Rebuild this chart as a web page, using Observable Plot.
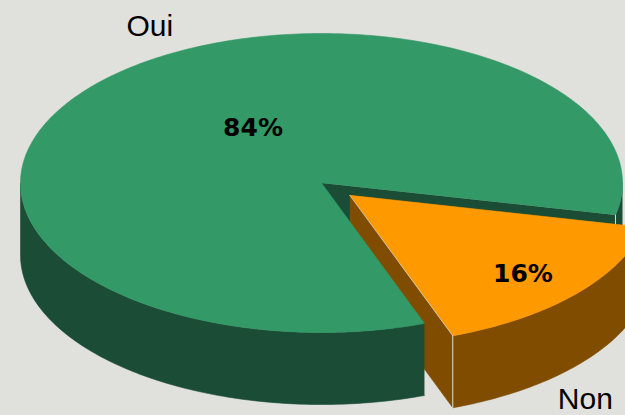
<!DOCTYPE html>
<html><head><meta charset="utf-8">
<script src="https://cdn.jsdelivr.net/npm/d3@7"></script>
<script src="https://cdn.jsdelivr.net/npm/@observablehq/plot@0.6"></script>
<style>
html,body{margin:0;padding:0;background:#e0e0dc;}
#chart{width:625px;height:415px;overflow:hidden;}
</style></head><body><div id="chart"></div>
<script>
// ---- data ----
const categories = ["Oui", "Non"];
const values = [84, 16];
const valueLabels = ["84%", "16%"];
const topColors = ["#339966", "#ff9900"];
const sideColors = ["#1b4c35", "#804d00"];
const explode = [0, 0.125];

// ---- layout ----
const W = 625, H = 415, CX = 321, CY = 182.5, RX = 301, RY = 149.5;
const DEPTH = 72 / RY;
const START = 70; // degrees, clockwise on screen
const pctPolar = {Oui: [238.3, 0.433], Non: [42.5, 0.78]};
const catPolar = {Oui: [241.5, 1.195], Non: [60.2, 1.5745]};
const edgeColor = "#dcdcd4";

const rad = d => d * Math.PI / 180;
function arcPts(a0, a1, ox, oy, dz) {
  const n = Math.max(2, Math.ceil(Math.abs(a1 - a0)));
  const pts = [];
  for (let i = 0; i <= n; i++) {
    const t = rad(a0 + (a1 - a0) * i / n);
    pts.push({x: ox + Math.cos(t), y: oy + Math.sin(t) + dz});
  }
  return pts;
}
const total = d3.sum(values);
let acc = START;
const slices = categories.map((c, i) => {
  const a0 = acc, a1 = acc + values[i] / total * 360; acc = a1;
  const mid = (a0 + a1) / 2;
  return {c, i, a0, a1, mid, ox: explode[i] * Math.cos(rad(mid)), oy: explode[i] * Math.sin(rad(mid))};
});

function poly(pts, fill) {
  return Plot.line(pts, {x: "x", y: "y", fill, stroke: fill, strokeWidth: 0.6, curve: "linear", clip: true});
}
function wallMarks(s) {
  const out = [];
  for (let k = 0; k < 3; k++) {
    const lo = Math.max(s.a0, k * 360), hi = Math.min(s.a1, k * 360 + 180);
    if (hi > lo) out.push(poly(arcPts(lo, hi, s.ox, s.oy, 0).concat(arcPts(hi, lo, s.ox, s.oy, DEPTH)), sideColors[s.i]));
  }
  return out;
}
function facePts(s, a) {
  const cx = Math.cos(rad(a)), sy = Math.sin(rad(a));
  return [{x: s.ox, y: s.oy}, {x: s.ox + cx, y: s.oy + sy}, {x: s.ox + cx, y: s.oy + sy + DEPTH}, {x: s.ox, y: s.oy + DEPTH}];
}
function faceMarks(s) {
  const out = [];
  if (Math.cos(rad(s.a0)) < 0) out.push(poly(facePts(s, s.a0), sideColors[s.i]));
  if (Math.cos(rad(s.a1)) > 0) out.push(poly(facePts(s, s.a1), sideColors[s.i]));
  return out;
}
function topMark(s) {
  return poly([{x: s.ox, y: s.oy}, ...arcPts(s.a0, s.a1, s.ox, s.oy, 0)], topColors[s.i]);
}
function edgeMarks(s, withTop) {
  const out = [];
  if (Math.cos(rad(s.a1)) > 0) {
    const p = facePts(s, s.a1);
    out.push(Plot.line([p[1], p[2]], {x: "x", y: "y", stroke: edgeColor, strokeWidth: 1, clip: true}));
    if (withTop) out.push(Plot.line([p[0], p[1]], {x: "x", y: "y", stroke: edgeColor, strokeWidth: 1, strokeOpacity: 0.7, clip: true}));
  }
  return out;
}

// painter's order: back faces first, then the still slice, then the exploded slice
const marks = [];
const exploded = slices.filter(s => explode[s.i] > 0);
const still = slices.filter(s => explode[s.i] === 0);
still.forEach(s => marks.push(...faceMarks(s)));
exploded.forEach(s => marks.push(...faceMarks(s)));
still.forEach(s => { marks.push(...wallMarks(s), topMark(s), ...edgeMarks(s, false)); });
exploded.forEach(s => { marks.push(...wallMarks(s), topMark(s), ...edgeMarks(s, true)); });

const pctData = slices.map(s => {
  const [a, r] = pctPolar[s.c];
  return {x: s.ox + r * Math.cos(rad(a)), y: s.oy + r * Math.sin(rad(a)), t: valueLabels[s.i]};
});
const catData = slices.map(s => {
  const [a, r] = catPolar[s.c];
  return {x: s.ox + r * Math.cos(rad(a)), y: s.oy + r * Math.sin(rad(a)), t: s.c};
});
marks.push(Plot.text(pctData, {x: "x", y: "y", text: "t", fontFamily: "DejaVu Sans", fontWeight: "bold", fontSize: 25, fill: "#000", textAnchor: "middle", lineAnchor: "middle"}));
marks.push(Plot.text(catData, {x: "x", y: "y", text: "t", fontFamily: "Liberation Sans", fontSize: 30, fill: "#000", textAnchor: "middle", lineAnchor: "middle"}));

const chart = Plot.plot({
  width: W, height: H,
  margin: 0, marginTop: 0, marginRight: 0, marginBottom: 0, marginLeft: 0,
  x: {domain: [-CX / RX, (W - CX) / RX], range: [0, W], axis: null},
  y: {domain: [-CY / RY, (H - CY) / RY], range: [0, H], axis: null},
  style: {background: "#e0e0dc", overflow: "hidden"},
  marks
});
document.getElementById("chart").appendChild(chart);
</script>
</body></html>
